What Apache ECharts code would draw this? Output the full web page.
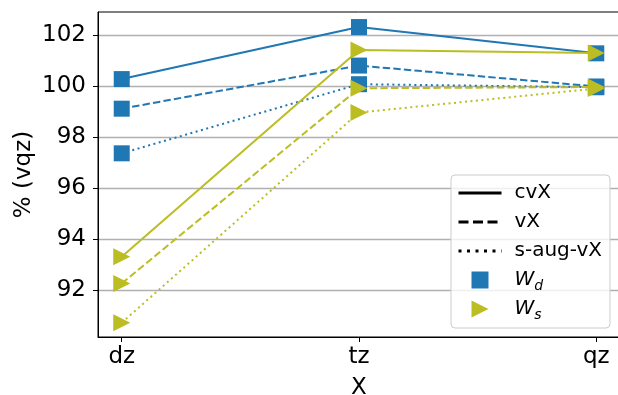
<!DOCTYPE html>
<html>
<head>
<meta charset="utf-8">
<script src="https://cdn.jsdelivr.net/npm/echarts@6/dist/echarts.min.js"></script>
<style>
  html, body { margin: 0; padding: 0; background: #fff; }
  #chart { width: 618px; height: 395px; }
</style>
</head>
<body>
<div id="chart"></div>
<script>
// Basis sets along the x axis
const categories = ['dz', 'tz', 'qz'];
// Y tick labels
const yTicks = [92, 94, 96, 98, 100, 102];

// W_d values (% of vqz)
const wdCvX = [100.27, 102.31, 101.28];
const wdVX = [99.11, 100.80, 99.98];
const wdSaugVX = [97.36, 100.07, 99.95];

// W_s values (% of vqz)
const wsCvX = [93.31, 101.41, 101.29];
const wsVX = [92.26, 99.91, 99.96];
const wsSaugVX = [90.72, 98.96, 99.90];

const BLUE = '#1f77b4';
const OLIVE = '#bcbd22';
const FONT = 'DejaVu Sans';
const TRI = 'path://M0,0 L1,0.5 L0,1 Z';
const SQ = 'path://M0,0 L1,0 L1,1 L0,1 Z';
const LW = 2;
const DASH = [7.4, 3.2];
const DOT = [2, 3.5];

function pts(vals) {
  return vals.map((v, i) => [i, v]);
}

function dataSeries(vals, color, dash, symbol, size) {
  return {
    type: 'line',
    data: pts(vals),
    symbol: symbol,
    symbolSize: size,
    showAllSymbol: true,
    itemStyle: { color: color, opacity: 1 },
    lineStyle: { color: color, width: LW, type: dash },
    emphasis: { disabled: true },
    silent: true,
    animation: false,
    z: 3
  };
}

// Legend-only entries describing the line styles
function styleEntry(name, dash) {
  return {
    name: name,
    type: 'line',
    data: [],
    symbol: 'none',
    itemStyle: { color: 'rgba(0,0,0,0)', borderWidth: 0 },
    lineStyle: { color: '#000', width: 3, type: dash },
    animation: false
  };
}

// Legend-only entries describing the marker shapes
function markerEntry(name, color, symbol) {
  return {
    name: name,
    type: 'scatter',
    data: [],
    symbol: symbol,
    symbolKeepAspect: true,
    itemStyle: { color: color, opacity: 1 },
    animation: false
  };
}

const chart = echarts.init(document.getElementById('chart'), null, { renderer: 'canvas' });

chart.setOption({
  backgroundColor: '#fff',
  animation: false,
  grid: {
    left: 98,
    top: 12,
    width: 522,
    height: 325,
    outerBoundsMode: 'none',
    containLabel: false,
    show: true,
    borderColor: '#000',
    borderWidth: 1,
    backgroundColor: 'transparent'
  },
  xAxis: {
    type: 'value',
    min: -0.1,
    max: 2.1,
    name: 'X',
    nameLocation: 'middle',
    nameGap: 40,
    nameTextStyle: { fontFamily: FONT, fontSize: 23, color: '#000' },
    axisLine: { show: true, onZero: false, lineStyle: { color: '#000', width: 1 } },
    axisTick: { show: true, length: 5, inside: false, customValues: [0, 1, 2], lineStyle: { color: '#000', width: 1 } },
    axisLabel: {
      customValues: [0, 1, 2],
      margin: 9,
      fontFamily: FONT,
      fontSize: 23,
      color: '#000',
      formatter: v => categories[Math.round(v)] || ''
    },
    splitLine: { show: false }
  },
  yAxis: {
    type: 'value',
    min: 90.16,
    max: 102.9,
    name: '% (vqz)',
    nameLocation: 'middle',
    nameRotate: 90,
    nameGap: 62,
    nameMoveOverlap: false,
    nameTextStyle: { fontFamily: FONT, fontSize: 23, color: '#000' },
    axisLine: { show: true, onZero: false, lineStyle: { color: '#000', width: 1 } },
    axisTick: { show: true, length: 5, inside: false, customValues: yTicks, lineStyle: { color: '#000', width: 1 } },
    axisLabel: {
      customValues: yTicks,
      margin: 12,
      fontFamily: FONT,
      fontSize: 23,
      color: '#000'
    },
    splitLine: { show: true, lineStyle: { color: '#b0b0b0', width: 1.3 } }
  },
  legend: {
    orient: 'vertical',
    left: 451,
    top: 175,
    padding: [5, 8, 6, 6],
    itemWidth: 43,
    itemHeight: 17,
    itemGap: 3,
    selectedMode: false,
    backgroundColor: 'rgba(255,255,255,0.8)',
    borderColor: '#cccccc',
    borderWidth: 1,
    borderRadius: 4,
    lineStyle: { width: 3 },
    textStyle: {
      fontFamily: FONT,
      fontSize: 20,
      lineHeight: 26,
      color: '#000',
      padding: [0, 0, 0, 8],
      rich: {
        it: { fontFamily: FONT, fontStyle: 'italic', fontSize: 20, color: '#000', lineHeight: 26 },
        sub: { fontFamily: FONT, fontStyle: 'italic', fontSize: 14, color: '#000', verticalAlign: 'bottom' }
      }
    },
    formatter: function (name) {
      if (name === 'W_d') return '{it|W}{sub|d}';
      if (name === 'W_s') return '{it|W}{sub|s}';
      return name;
    },
    data: ['cvX', 'vX', 's-aug-vX', 'W_d', 'W_s']
  },
  series: [
    dataSeries(wdCvX, BLUE, 'solid', 'rect', 16),
    dataSeries(wdVX, BLUE, DASH, 'rect', 16),
    dataSeries(wdSaugVX, BLUE, DOT, 'rect', 16),
    dataSeries(wsCvX, OLIVE, 'solid', TRI, 17),
    dataSeries(wsVX, OLIVE, DASH, TRI, 17),
    dataSeries(wsSaugVX, OLIVE, DOT, TRI, 17),
    styleEntry('cvX', 'solid'),
    styleEntry('vX', [10, 4.5]),
    styleEntry('s-aug-vX', [3, 5.5]),
    markerEntry('W_d', BLUE, SQ),
    markerEntry('W_s', OLIVE, TRI)
  ]
});
</script>
</body>
</html>
